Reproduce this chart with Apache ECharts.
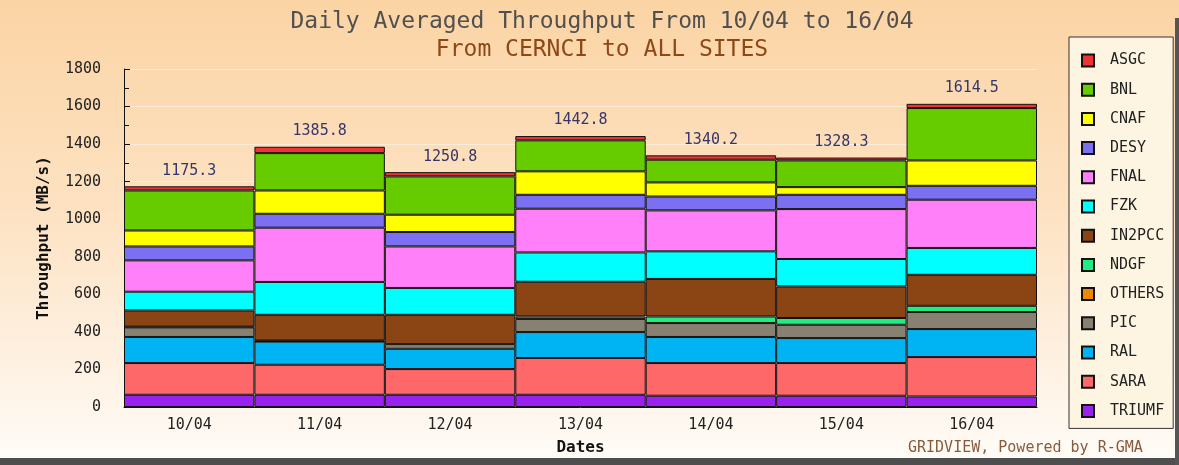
<!DOCTYPE html>
<html>
<head>
<meta charset="utf-8">
<script src="https://cdn.jsdelivr.net/npm/echarts@6/dist/echarts.min.js"></script>
<style>
html,body{margin:0;padding:0;}
#chart{width:1179px;height:465px;}
</style>
</head>
<body>
<div id="chart"></div>
<script>
const dates = ['10/04','11/04','12/04','13/04','14/04','15/04','16/04'];
const totals = [1175.3, 1385.8, 1250.8, 1442.8, 1340.2, 1328.3, 1614.5];
const yTicks = [0, 200, 400, 600, 800, 1000, 1200, 1400, 1600, 1800];

// stacked from bottom to top
const TRIUMF = [65, 65, 65, 65, 60, 60, 56];
const SARA   = [169, 160, 137, 196, 174, 174, 210];
const RAL    = [139, 123, 108, 138, 139, 133, 149];
const PIC    = [51, 2, 25, 70, 74, 71, 91];
const OTHERS = [4, 4, 0, 0, 0, 0, 0];
const NDGF   = [0, 0, 0, 13, 35, 36, 33];
const IN2PCC = [86, 137, 156, 185, 200, 168, 165];
const FZK    = [100, 175, 143, 156, 147, 146, 143];
const FNAL   = [167, 289, 221, 233, 218, 266, 257];
const DESY   = [74, 74, 77, 74, 74, 76, 74];
const CNAF   = [85, 124, 92, 125, 75, 41, 135];
const BNL    = [213, 199, 204, 165, 121, 142, 279];
const ASGC   = [22.3, 33.8, 22.8, 22.8, 23.2, 15.3, 22.5];

const stackOrder = ['TRIUMF','SARA','RAL','PIC','OTHERS','NDGF','IN2PCC','FZK','FNAL','DESY','CNAF','BNL','ASGC'];
const legendOrder = ['ASGC','BNL','CNAF','DESY','FNAL','FZK','IN2PCC','NDGF','OTHERS','PIC','RAL','SARA','TRIUMF'];
const values = {TRIUMF, SARA, RAL, PIC, OTHERS, NDGF, IN2PCC, FZK, FNAL, DESY, CNAF, BNL, ASGC};
const colors = {
  ASGC:'#ee3333', BNL:'#66cc00', CNAF:'#ffff00', DESY:'#7b6ff2', FNAL:'#ff80f8',
  FZK:'#00ffff', IN2PCC:'#8b4514', NDGF:'#22ee80', OTHERS:'#ee8800', PIC:'#888070',
  RAL:'#00b4f4', SARA:'#ff6868', TRIUMF:'#9922ee'
};

const mono = 'DejaVu Sans Mono';

const series = stackOrder.map(name => {
  const s = {
    name: name,
    type: 'bar',
    stack: 'total',
    barCategoryGap: '0%',
    data: values[name].map(v => v === 0 ? null : v),
    itemStyle: { color: colors[name], borderColor: '#111', borderWidth: 1 },
    emphasis: { disabled: true }
  };
  if (name === 'ASGC') {
    s.label = {
      show: true,
      position: 'top',
      distance: 8,
      fontFamily: mono,
      fontSize: 15,
      color: '#35356a',
      formatter: p => totals[p.dataIndex].toFixed(1)
    };
  }
  return s;
});

const chart = echarts.init(document.getElementById('chart'), null, {renderer: 'canvas'});
chart.setOption({
  animation: false,
  backgroundColor: {
    type: 'linear', x: 0, y: 0, x2: 0, y2: 1,
    colorStops: [
      {offset: 0, color: '#fbd4a4'},
      {offset: 0.45, color: '#fde2c2'},
      {offset: 0.8, color: '#fef2e4'},
      {offset: 1, color: '#fffcf8'}
    ]
  },
  title: [
    {
      text: 'Daily Averaged Throughput From 10/04 to 16/04',
      left: 597, top: 6, textAlign: 'center',
      textStyle: {fontFamily: mono, fontSize: 23, fontWeight: 'normal', color: '#505050'}
    },
    {
      text: 'From CERNCI to ALL SITES',
      left: 597, top: 34, textAlign: 'center',
      textStyle: {fontFamily: mono, fontSize: 23, fontWeight: 'normal', color: '#8e4818'}
    }
  ],
  legend: {
    data: legendOrder,
    orient: 'vertical',
    left: 1069, top: 37,
    padding: [16, 9, 10, 12],
    itemWidth: 12, itemHeight: 12,
    itemGap: 14.2,
    icon: 'rect',
    backgroundColor: '#fdf5e2',
    borderColor: '#333',
    borderWidth: 1,
    textStyle: {fontFamily: mono, fontSize: 15, color: '#222', padding: [0, 0, 0, 11]}
  },
  grid: {left: 124, right: 142, top: 69, bottom: 58},
  xAxis: {
    type: 'category',
    data: dates,
    name: 'Dates',
    nameLocation: 'middle',
    nameGap: 33,
    nameTextStyle: {fontFamily: mono, fontSize: 16, fontWeight: 'bold', color: '#111'},
    axisLine: {lineStyle: {color: '#111', width: 1}},
    axisTick: {show: false},
    axisLabel: {fontFamily: mono, fontSize: 15, color: '#222', margin: 11}
  },
  yAxis: {
    type: 'value',
    min: yTicks[0], max: yTicks[yTicks.length - 1], interval: 200,
    name: 'Throughput (MB/s)',
    nameLocation: 'middle',
    nameGap: 72,
    nameTextStyle: {fontFamily: mono, fontSize: 16, fontWeight: 'bold', color: '#111'},
    axisLine: {show: true, lineStyle: {color: '#111', width: 1}},
    axisTick: {show: true, inside: true, length: 6, lineStyle: {color: '#111'}},
    minorTick: {show: true, splitNumber: 2, length: 5, lineStyle: {color: '#111'}},
    splitLine: {show: true, lineStyle: {color: 'rgba(255,255,255,0.45)', width: 1}},
    axisLabel: {fontFamily: mono, fontSize: 15, color: '#222', margin: 23,
                formatter: v => String(v)}
  },
  graphic: [
    {type: 'rect', left: 0, top: 458, shape: {width: 1179, height: 7}, style: {fill: '#4e4e4e'}, z: 100},
    {type: 'rect', left: 1175, top: 18, shape: {width: 4, height: 447}, style: {fill: '#555'}, z: 100},
    {type: 'text', left: 908, top: 441,
     style: {text: 'GRIDVIEW, Powered by R-GMA', fontFamily: mono, fontSize: 15, fill: '#8a5a3c'}}
  ],
  series: series
});
</script>
</body>
</html>
